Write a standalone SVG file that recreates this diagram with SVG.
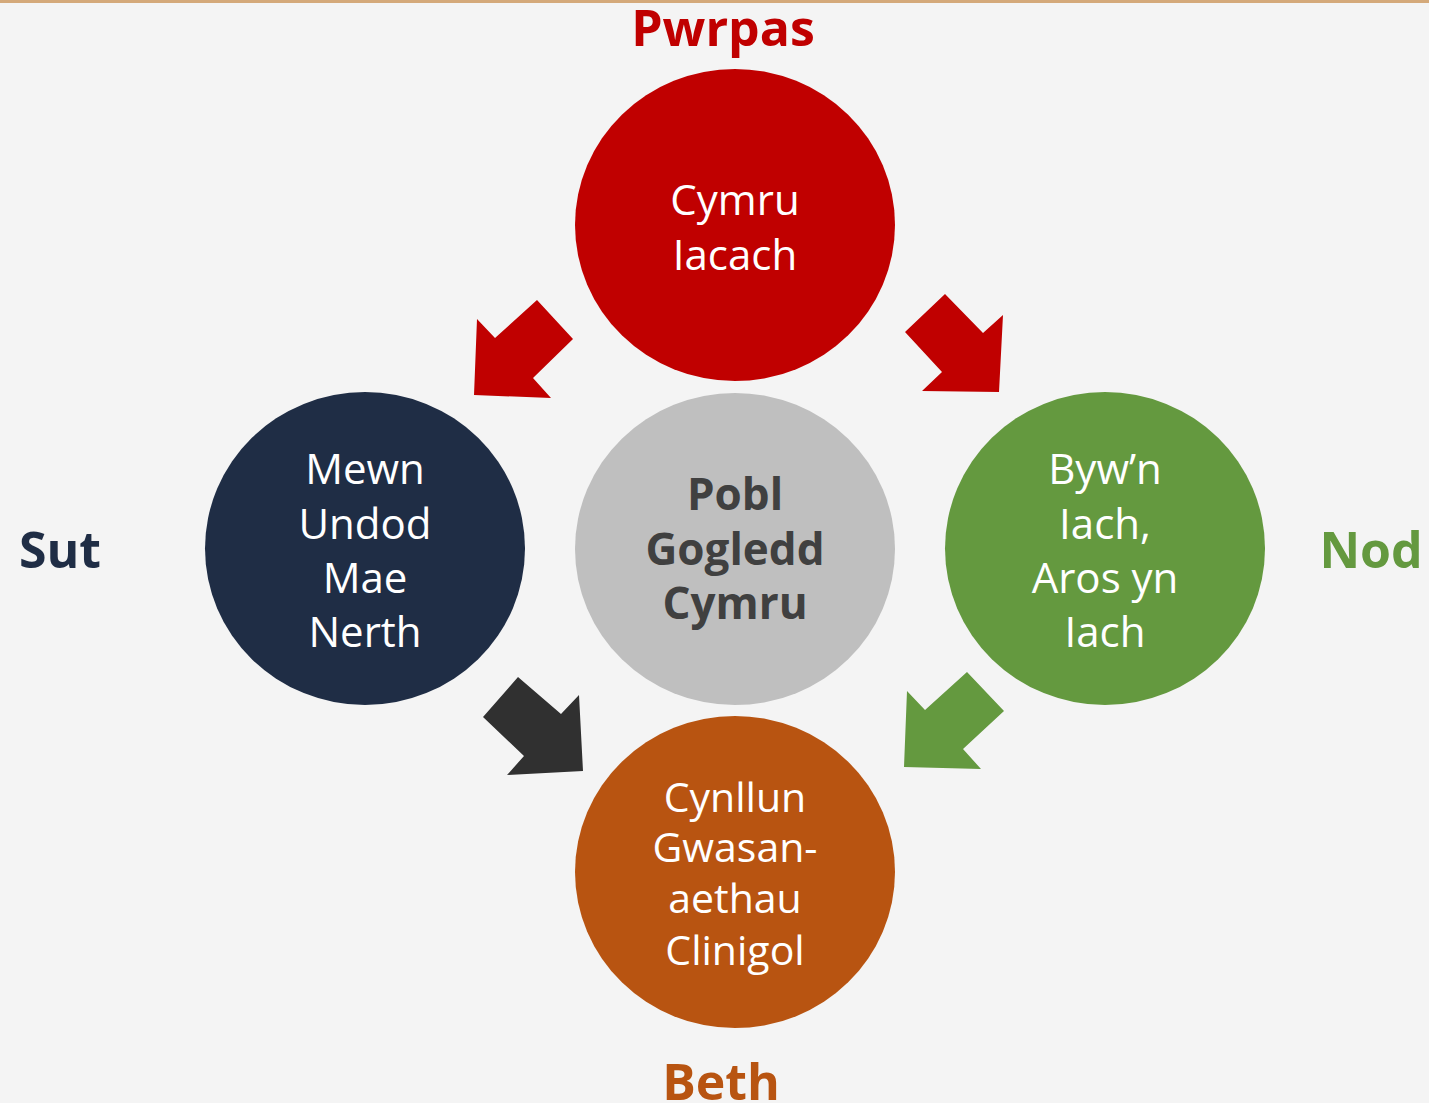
<svg xmlns="http://www.w3.org/2000/svg" width="1429" height="1103" viewBox="0 0 1429 1103">
<style>
.t{font-family:"Open Sans","Noto Sans","DejaVu Sans",sans-serif;font-size:42px;fill:#ffffff;text-anchor:middle}
.o{font-size:41px}
.b{font-family:"Open Sans","Noto Sans","DejaVu Sans",sans-serif;font-size:44px;font-weight:bold;fill:#404040;text-anchor:middle}
.h{font-family:"Open Sans","Noto Sans","DejaVu Sans",sans-serif;font-size:50px;font-weight:bold;text-anchor:middle}
</style>
<rect x="0" y="0" width="1429" height="1103" fill="#f4f4f4"/>
<rect x="0" y="0" width="1429" height="3" fill="#d4a97a"/>
<g id="connectors">
<polygon points="537,300 573,339 533,378 551,398 474,395 477,319 495,338" fill="#c00000"/>
<polygon points="945,294 983,333 1003,315 999,392 922,391 942,372 905,332" fill="#c00000"/>
<polygon points="518,677 561,714 579,695 583,771 507,775 524,756 483,717" fill="#303030"/>
<polygon points="967,672 1004,711 963,749 981,769 904,767 907,691 925,710" fill="#64993f"/>
</g>
<g id="node-top">
<ellipse cx="735" cy="225" rx="160" ry="156" fill="#c00000"/>
<text class="t" x="735" y="215">Cymru</text>
<text class="t" x="735" y="270">Iacach</text>
</g>
<g id="node-left">
<ellipse cx="365" cy="548.5" rx="160" ry="156.5" fill="#1f2d45"/>
<text class="t" x="365" y="484">Mewn</text>
<text class="t" x="365" y="539">Undod</text>
<text class="t" x="365" y="593">Mae</text>
<text class="t" x="365" y="647">Nerth</text>
</g>
<g id="node-center">
<ellipse cx="735" cy="549" rx="160" ry="156" fill="#bfbfbf"/>
<text class="b" x="735" y="510">Pobl</text>
<text class="b" x="735" y="565">Gogledd</text>
<text class="b" x="735" y="619">Cymru</text>
</g>
<g id="node-right">
<ellipse cx="1105" cy="548.5" rx="160" ry="156.5" fill="#64993f"/>
<text class="t" x="1105" y="484">Byw’n</text>
<text class="t" x="1105" y="539">Iach,</text>
<text class="t" x="1105" y="593">Aros yn</text>
<text class="t" x="1105" y="647">Iach</text>
</g>
<g id="node-bottom">
<ellipse cx="735" cy="872" rx="160" ry="156" fill="#b85411"/>
<text class="t o" x="735" y="812">Cynllun</text>
<text class="t o" x="735" y="862">Gwasan-</text>
<text class="t o" x="735" y="913">aethau</text>
<text class="t o" x="735" y="965">Clinigol</text>
</g>
<g id="labels">
<text class="h" x="723" y="46" fill="#c00000">Pwrpas</text>
<text class="h" x="60" y="568" fill="#1f2d45">Sut</text>
<text class="h" x="1371" y="568" fill="#64993f">Nod</text>
<text class="h" x="721" y="1100" fill="#b85411">Beth</text>
</g>
</svg>
